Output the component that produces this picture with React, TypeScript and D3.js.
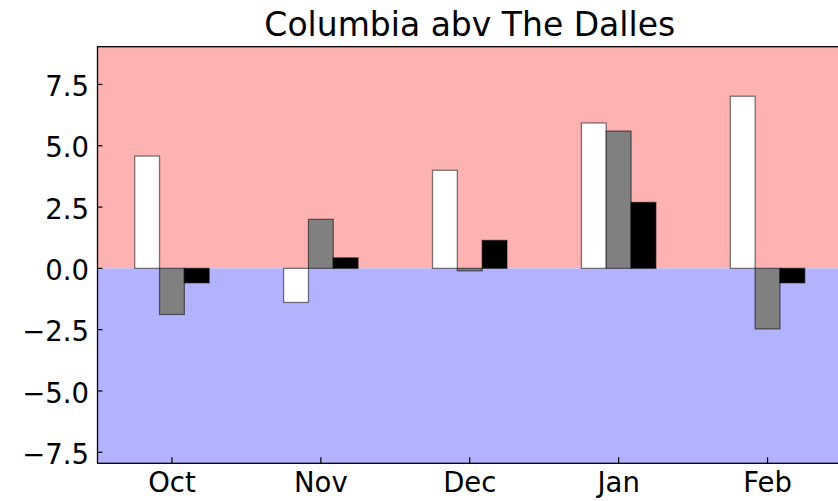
import { useMemo } from "react";
import * as d3 from "d3";

const months = ["Oct", "Nov", "Dec", "Jan", "Feb"];
const whiteSeries = [4.58, -1.39, 4.0, 5.93, 7.02];
const graySeries = [-1.88, 2.0, -0.1, 5.6, -2.47];
const blackSeries = [-0.59, 0.43, 1.14, 2.69, -0.59];
const yTicks = [-7.5, -5.0, -2.5, 0.0, 2.5, 5.0, 7.5];
const title = "Columbia abv The Dalles";

const W = 838;
const H = 501;
const AX = { left: 97.5, right: 842, top: 46.7, bottom: 463.3 };
const FONT = "'DejaVu Sans', sans-serif";
const BAR_W = 1 / 6;

export default function App() {
  const x = useMemo(
    () => d3.scaleLinear().domain([-0.5, 4.5]).range([AX.left, AX.right]),
    []
  );
  const y = useMemo(
    () => d3.scaleLinear().domain([-7.95, 9.04]).range([AX.bottom, AX.top]),
    []
  );

  const series = [
    { values: whiteSeries, fill: "#ffffff", offset: -BAR_W },
    { values: graySeries, fill: "#808080", offset: 0 },
    { values: blackSeries, fill: "#000000", offset: BAR_W },
  ];

  const px = (d: number) => x(d);
  const bw = px(BAR_W) - px(0);
  const fmt = d3.format(".1f");

  return (
    <svg
      width={W}
      height={H}
      style={{ position: "fixed", left: 0, top: 0, background: "#fff" }}
      fontFamily={FONT}
    >
      <defs>
        <clipPath id="ax">
          <rect x={AX.left} y={AX.top} width={AX.right - AX.left} height={AX.bottom - AX.top} />
        </clipPath>
      </defs>

      {/* background spans */}
      <g clipPath="url(#ax)">
        <rect x={AX.left} y={AX.top} width={AX.right - AX.left} height={y(0) - AX.top} fill="#ffb2b2" />
        <rect x={AX.left} y={y(0)} width={AX.right - AX.left} height={AX.bottom - y(0)} fill="#b2b2ff" />

        {/* bars */}
        {series.map((s, si) => (
          <g key={si}>
            {s.values.map((v, i) => {
              const cx = x(i + s.offset);
              const y0 = y(0);
              const y1 = y(v);
              return (
                <rect
                  key={i}
                  x={cx - bw / 2}
                  y={Math.min(y0, y1)}
                  width={bw}
                  height={Math.abs(y1 - y0)}
                  fill={s.fill}
                  stroke="rgba(0,0,0,0.5)"
                  strokeWidth={1.3}
                />
              );
            })}
          </g>
        ))}
      </g>

      {/* y ticks */}
      {yTicks.map((t) => (
        <g key={t}>
          <line x1={AX.left} x2={AX.left + 5} y1={y(t)} y2={y(t)} stroke="#000" strokeWidth={1.2} />
          <text x={AX.left - 8.5} y={y(t)} dy="0.42em" textAnchor="end" fontSize={27.5} fill="#000">
            {fmt(t)}
          </text>
        </g>
      ))}

      {/* x ticks */}
      {months.map((m, i) => (
        <g key={m}>
          <line x1={x(i)} x2={x(i)} y1={AX.bottom} y2={AX.bottom - 6} stroke="#000" strokeWidth={1.2} />
          <text x={x(i)} y={AX.bottom + 28.5} textAnchor="middle" fontSize={27.5} fill="#000">
            {m}
          </text>
        </g>
      ))}

      {/* spines */}
      <rect
        x={AX.left}
        y={AX.top}
        width={AX.right - AX.left}
        height={AX.bottom - AX.top}
        fill="none"
        stroke="#000"
        strokeWidth={1.3}
      />

      <text x={(AX.left + AX.right) / 2} y={36} textAnchor="middle" fontSize={33} fill="#000">
        {title}
      </text>
    </svg>
  );
}
